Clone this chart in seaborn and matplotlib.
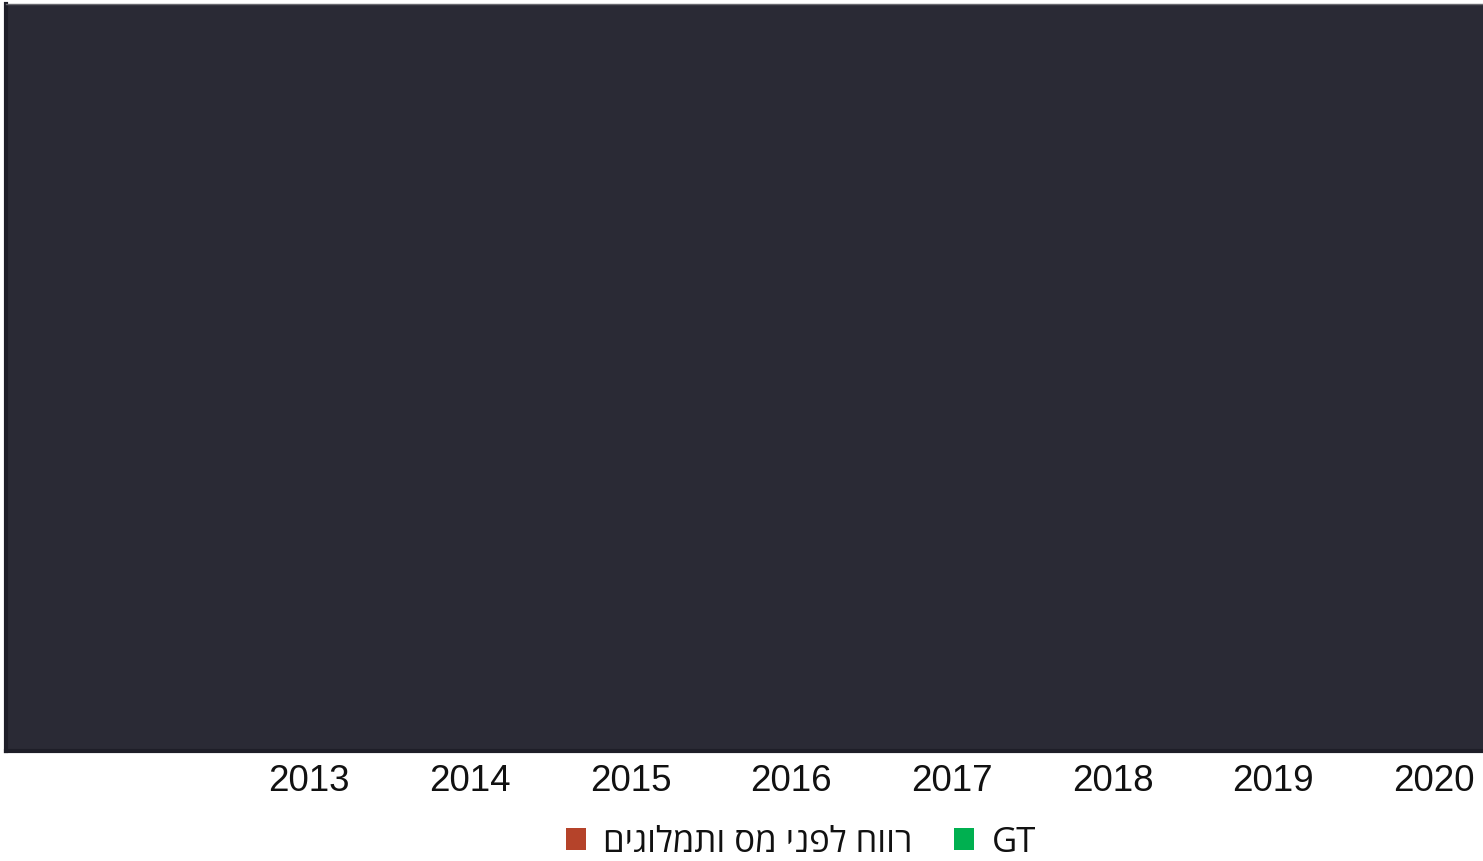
import numpy as np
import pandas as pd
import matplotlib
matplotlib.use("Agg")
import matplotlib.pyplot as plt
from matplotlib.patches import Patch
import seaborn as sns

# ---- data ----
years = ["2013", "2014", "2015", "2016", "2017", "2018", "2019", "2020"]
series_names = ["רווח לפני מס ותמלוגים", "GT"]
series_colors = ["#b5432a", "#00b050"]
# The bars are fully hidden behind the dark panel in the reference: no values readable
profit_values = [np.nan] * len(years)
gt_values = [np.nan] * len(years)

sns.set_theme(style="white")
plt.rcParams['font.family'] = ['Liberation Sans', 'DejaVu Sans']

W, H = 1483, 862
fig = plt.figure(figsize=(W / 100, H / 100), dpi=100)
ax = fig.add_axes([6 / W, 1 - 752 / H, (W - 6) / W, (752 - 5) / H])
ax.set_facecolor("#2a2a35")

df = pd.DataFrame({
    "year": years * 2,
    "value": profit_values + gt_values,
    "series": [series_names[0]] * len(years) + [series_names[1]] * len(years),
})
sns.barplot(data=df, x="year", y="value", hue="series", order=years,
            hue_order=series_names, palette=series_colors, ax=ax,
            legend=False, errorbar=None)

s = (1434 - 309) / 7
ax.set_xlim((6 - 309) / s, (1483 - 309) / s)
ax.set_ylim(0, 1)
ax.set_yticks([])
ax.set_xlabel("")
ax.set_ylabel("")
ax.tick_params(axis="x", length=0, pad=9, labelsize=26.5, labelcolor="#111111")

ax.spines["right"].set_visible(False)
ax.spines["top"].set_color("#6a6a70")
ax.spines["top"].set_linewidth(1.0)
ax.spines["left"].set_color("#1e1e28")
ax.spines["left"].set_linewidth(3)
ax.spines["bottom"].set_color("#1e1e28")
ax.spines["bottom"].set_linewidth(3)

# legend (Hebrew text reversed into visual order since matplotlib has no bidi)
handles = [Patch(facecolor=c, edgecolor="none") for c in series_colors]
labels = [series_names[0][::-1], series_names[1]]
fig.legend(handles, labels, loc="center", bbox_to_anchor=(801 / W, 1 - 843 / H),
           ncol=2, frameon=False, borderpad=0.1,
           prop={"family": ["Open Sans", "DejaVu Sans"], "size": 25},
           handlelength=0.58, handleheight=0.58, handletextpad=0.5, columnspacing=1.2,
           labelcolor="#111111")

fig.savefig("out.png", dpi=100, facecolor="white")
